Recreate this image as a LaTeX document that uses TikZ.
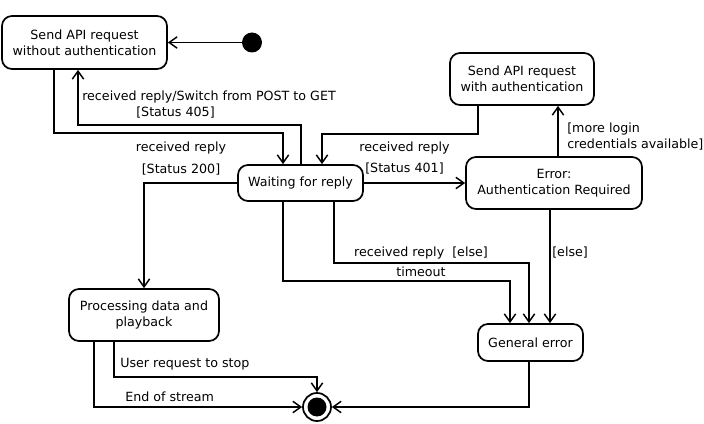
\documentclass[tikz,border=0pt]{standalone}
\usepackage{fontspec}
\setmainfont{DejaVu Sans}
\usetikzlibrary{arrows.meta}

\tikzset{
  state/.style={draw, rectangle, rounded corners=7.5pt, align=center, inner sep=0pt, line width=1.3pt},
  trans/.style={-{Straight Barb[length=6pt,width=8.5pt,line width=1.1pt]}, line width=1.3pt},
  lbl/.style={inner sep=0pt, align=left}
}

\begin{document}
\begin{tikzpicture}[x=0.75pt, y=-0.75pt, font=\fontsize{9.5}{12}\selectfont]
\useasboundingbox (0,0) rectangle (704,424);

% States
\node[state, minimum width=123.75pt, minimum height=39.75pt] (nauth) at (84.5,42.5) {Send API request\\without authentication};
\node[state, minimum width=93.75pt, minimum height=27pt] (wait) at (300.5,183) {Waiting for reply};
\node[state, minimum width=108pt, minimum height=39pt] (auth) at (522,79) {Send API request\\with authentication};
\node[state, minimum width=132pt, minimum height=39pt] (autherr) at (554,183) {Error:\\Authentication Required};
\node[state, minimum width=112.5pt, minimum height=39pt] (proc) at (144,315) {Processing data and\\playback};
\node[state, minimum width=78.75pt, minimum height=27.75pt] (generr) at (530.5,342.5) {General error};

% Initial and final
\node[circle, fill, inner sep=0pt, minimum size=15pt] (init) at (252,42.5) {};
\node[circle, draw, line width=1.3pt, inner sep=0pt, minimum size=21pt] (final) at (317,407) {};
\fill (final.center) circle (9.5);

% Transitions
\draw[trans] (init) -- (nauth);
\draw[trans] (nauth.south -| 54,0) |- (283,133) -- (wait.north -| 283,0);
\draw[trans] (wait.north -| 301,0) |- (78,125) -- (nauth.south -| 78,0);
\draw[trans] (auth.south -| 478,0) |- (322,134) -- (wait.north -| 322,0);
\draw[trans] (wait) -- (autherr);
\draw[trans] (autherr.north -| 558,0) -- (auth.south -| 558,0);
\draw[trans] (wait) -| (proc);
\draw[trans] (wait.south -| 283,0) |- (510,281) -- (generr.north -| 510,0);
\draw[trans] (wait.south -| 334,0) |- (529,263) -- (generr.north -| 529,0);
\draw[trans] (autherr.south -| 550,0) -- (generr.north -| 550,0);
\draw[trans] (proc.south -| 114,0) |- (317,377) -- (final);
\draw[trans] (proc.south -| 94,0) |- (final);
\draw[trans] (generr.south -| 529,0) |- (final);

% Labels
\node[lbl, anchor=west] (l405) at (82,105) {received reply/Switch from POST to GET\\\hspace*{40.5pt}[Status 405]};
\node[lbl, align=center] (l200) at (181,158.5) {received reply\\[4pt][Status 200]};
\node[lbl, align=center] (l401) at (404.5,158) {received reply\\[4pt][Status 401]};
\node[lbl, anchor=west] (lmore) at (567,136.5) {[more login\\credentials available]};
\node[lbl] (lelse1) at (421,253) {received reply\ \ [else]};
\node[lbl] (ltime) at (421,272) {timeout};
\node[lbl, anchor=west] (lelse2) at (552,253) {[else]};
\node[lbl, anchor=west] (lstop) at (120,364) {User request to stop};
\node[lbl, anchor=west] (leos) at (125,397) {End of stream};
\end{tikzpicture}
\end{document}
